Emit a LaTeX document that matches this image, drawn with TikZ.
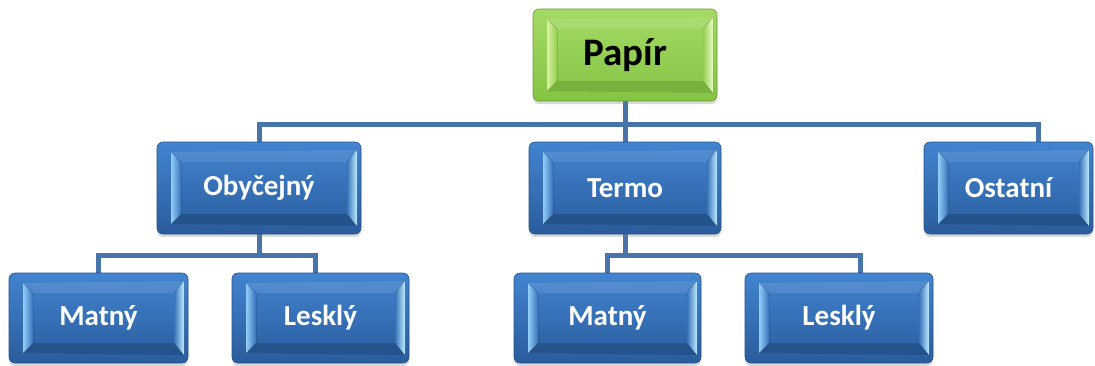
\documentclass[tikz,border=0pt]{standalone}
\usepackage{fontspec}
\setmainfont{Carlito}
\usetikzlibrary{shadows,backgrounds,calc}
\definecolor{bTop}{RGB}{66,132,208}
\definecolor{bBot}{RGB}{42,92,156}
\definecolor{bEdge}{RGB}{38,82,138}
\definecolor{bMid}{RGB}{56,114,186}
\definecolor{bLight}{RGB}{145,205,248}
\definecolor{bRight}{RGB}{190,236,255}
\definecolor{bDark}{RGB}{34,76,130}
\definecolor{gTop}{RGB}{164,218,100}
\definecolor{gBot}{RGB}{132,196,68}
\definecolor{gEdge}{RGB}{104,156,52}
\definecolor{gMid}{RGB}{146,206,82}
\definecolor{gLight}{RGB}{218,242,160}
\definecolor{gRight}{RGB}{238,252,196}
\definecolor{gDark}{RGB}{112,170,56}
\definecolor{connc}{RGB}{72,116,172}
\tikzset{
  bevel/.style n args={4}{path picture={
    \coordinate (pw) at (path picture bounding box.north west);
    \coordinate (pe) at (path picture bounding box.north east);
    \coordinate (qw) at (path picture bounding box.south west);
    \coordinate (qe) at (path picture bounding box.south east);
    \fill[white, opacity=0.10, sharp corners] ([shift={(14pt,-10pt)}]pw) -- ([shift={(24pt,-20pt)}]pw) -- ([shift={(-14pt,-20pt)}]pe) -- ([shift={(-4pt,-8pt)}]pe) -- cycle;
    \fill[#3, opacity=0.7, sharp corners] ([shift={(14pt,10pt)}]qw) -- ([shift={(24pt,20pt)}]qw) -- ([shift={(-14pt,20pt)}]qe) -- ([shift={(-4pt,8pt)}]qe) -- cycle;
    \fill[left color=#1, right color=#4, sharp corners] ([shift={(14pt,-10pt)}]pw) -- ([shift={(24pt,-20pt)}]pw) -- ([shift={(24pt,20pt)}]qw) -- ([shift={(14pt,10pt)}]qw) -- cycle;
    \fill[left color=#4, right color=#2, sharp corners] ([shift={(-14pt,-20pt)}]pe) -- ([shift={(-4pt,-8pt)}]pe) -- ([shift={(-4pt,8pt)}]qe) -- ([shift={(-14pt,20pt)}]qe) -- cycle;
  }},
  box/.style={rounded corners=6pt, inner sep=0pt, outer sep=0pt, minimum height=92pt,
    draw=bEdge, line width=0.6pt, top color=bTop, bottom color=bBot,
    text=white, font=\fontsize{29pt}{34pt}\selectfont\bfseries,
    drop shadow={opacity=0.3, shadow xshift=0pt, shadow yshift=-3pt},
    bevel={bLight}{bRight}{bDark}{bMid}},
  lowbox/.style={box, minimum height=90pt},
  rootbox/.style={box, draw=gEdge, top color=gTop, bottom color=gBot, text=black,
    font=\fontsize{39pt}{44pt}\selectfont\bfseries,
    bevel={gLight}{gRight}{gDark}{gMid}},
  conn/.style={draw=connc, line width=5pt, line join=miter}
}
\begin{document}
\begin{tikzpicture}[x=1pt, y=-1pt]
\useasboundingbox (0,0) rectangle (1095,365);
\node[rootbox, minimum width=184pt] (papir) at (625,55) {Papír};
\node[box, minimum width=204pt] (oby) at (259,188) {Obyčejný};
\node[box, minimum width=192pt] (termo) at (625,188) {Termo};
\node[box, minimum width=169pt] (ost) at (1008.5,188) {Ostatní};
\node[lowbox, minimum width=179pt] (m1) at (98.5,318) {Matný};
\node[lowbox, minimum width=177pt] (l1) at (320.5,318) {Lesklý};
\node[lowbox, minimum width=187pt] (m2) at (607.5,318) {Matný};
\node[lowbox, minimum width=188pt] (l2) at (839,318) {Lesklý};
\coordinate (h1) at (625,124);
\coordinate (h2) at (0,255);
\coordinate (ostc) at ([xshift=29.5pt]ost.north);
\coordinate (l1c) at ([xshift=-5.5pt]l1.north);
\coordinate (l2c) at ([xshift=21pt]l2.north);
\begin{scope}[on background layer]
\draw[conn] (papir.south) -- (h1);
\draw[conn] (termo.north) -- (h1);
\draw[conn] (oby.north) -- (oby.north |- h1) -- (ostc |- h1) -- (ostc);
\draw[conn] (oby.south) -- (oby.south |- h2);
\draw[conn] (m1.north) -- (m1.north |- h2) -- (l1c |- h2) -- (l1c);
\draw[conn] (termo.south) -- (termo.south |- h2);
\draw[conn] (m2.north) -- (m2.north |- h2) -- (l2c |- h2) -- (l2c);
\end{scope}
\end{tikzpicture}
\end{document}
